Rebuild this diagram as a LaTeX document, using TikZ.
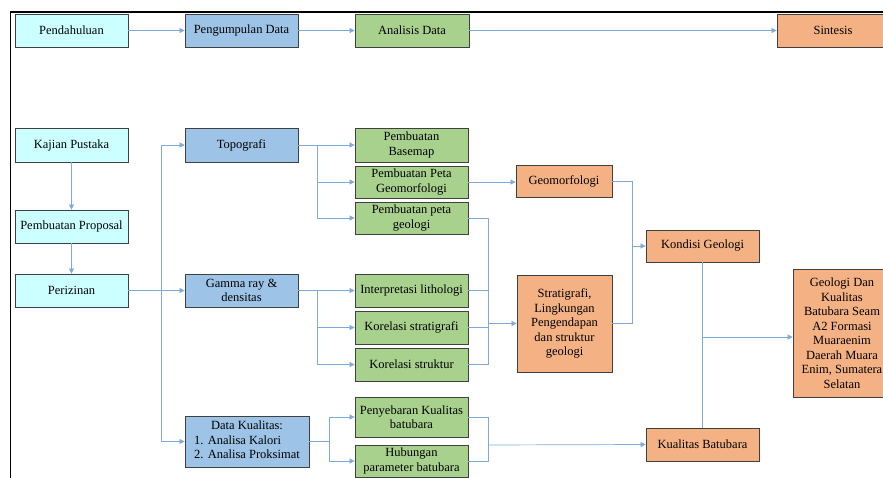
\documentclass[tikz,border=0pt]{standalone}
\usepackage{fontspec}
\setmainfont{Liberation Serif}
\usetikzlibrary{arrows.meta}
\definecolor{cyanfill}{RGB}{204,255,255}
\definecolor{bluefill}{RGB}{157,195,230}
\definecolor{greenfill}{RGB}{169,209,142}
\definecolor{orangefill}{RGB}{244,177,131}
\definecolor{edgegray}{RGB}{64,64,64}
\definecolor{linkblue}{RGB}{125,170,214}

\begin{document}
\begin{tikzpicture}[x=1pt,y=-1pt,
  procbox/.style={draw=edgegray, line width=0.8pt, align=center, inner sep=1pt,
    font=\fontsize{12.5}{14.5}\selectfont},
  wh/.style 2 args={minimum width=#1pt, minimum height=#2pt},
  cyanbox/.style={procbox, fill=cyanfill},
  bluebox/.style={procbox, fill=bluefill},
  greenbox/.style={procbox, fill=greenfill},
  orangebox/.style={procbox, fill=orangefill},
  link/.style={draw=linkblue, line width=0.7pt},
  flow/.style={link, -{Triangle[length=5pt,width=5pt]}}
]

\useasboundingbox (0,0) rectangle (883,478);
\clip (0,0) rectangle (883,478);

% Frame
\draw[line width=1.3pt] (10.5,478) -- (10.5,12) -- (883,12);

% Top row
\node[cyanbox, wh={113}{33}] (pend) at (71.5,30.5) {Pendahuluan};
\node[bluebox, wh={113}{33}] (kumpul) at (241.5,30.5) {Pengumpulan Data};
\node[greenbox, wh={114}{33}] (analisis) at (412,30.5) {Analisis Data};
\node[orangebox, wh={112}{33}] (sintesis) at (833,30.5) {Sintesis};

% Left column
\node[cyanbox, wh={113}{34}] (kajian) at (71.5,145) {Kajian Pustaka};
\node[cyanbox, wh={113}{33}] (proposal) at (71.5,226.5) {Pembuatan Proposal};
\node[cyanbox, wh={113}{33}] (izin) at (71.5,290.5) {Perizinan};

% Data groups
\node[bluebox, wh={113}{34}] (topo) at (241.5,145) {Topografi};
\node[bluebox, wh={113}{33}] (gamma) at (241.5,290.5) {Gamma ray \&\\ densitas};
\node[bluebox, wh={124}{51}] (kualdata) at (247,441.5)
  {\begin{tabular}{@{}l@{}}\multicolumn{1}{@{}c@{}}{Data Kualitas:}\\
   1. Analisa Kalori\\ 2. Analisa Proksimat\end{tabular}};

% Processing
\node[greenbox, wh={113}{34}] (basemap) at (411.5,145) {Pembuatan\\ Basemap};
\node[greenbox, wh={113}{32}] (petageomorf) at (411.5,182) {Pembuatan Peta\\ Geomorfologi};
\node[greenbox, wh={113}{32}] (petageol) at (411.5,218) {Pembuatan peta\\ geologi};
\node[greenbox, wh={113}{33}] (litho) at (411.5,290.5) {Interpretasi lithologi};
\node[greenbox, wh={113}{33}] (korstrat) at (411.5,327.5) {Korelasi stratigrafi};
\node[greenbox, wh={113}{33}] (korstruk) at (411.5,364.5) {Korelasi struktur};
\node[greenbox, wh={113}{40}] (sebar) at (411.5,417) {Penyebaran Kualitas\\ batubara};
\node[greenbox, wh={113}{32}] (hubung) at (411.5,461) {Hubungan\\ parameter batubara};

% Results
\node[orangebox, wh={96}{32}] (geomorf) at (564,181) {Geomorfologi};
\node[orangebox, wh={95}{97}] (strat) at (564.5,323.5)
  {Stratigrafi,\\ Lingkungan\\ Pengendapan\\ dan struktur\\ geologi};
\node[orangebox, wh={113}{32}] (kondisi) at (702.5,246) {Kondisi Geologi};
\node[orangebox, wh={113}{33}] (kualbb) at (702.5,444.5) {Kualitas Batubara};
\node[orangebox, wh={98}{128}] (final) at (842,333)
  {Geologi Dan\\ Kualitas\\ Batubara Seam\\ A2 Formasi\\ Muaraenim\\ Daerah Muara\\ Enim, Sumatera\\ Selatan};

% Junctions
\coordinate (jA) at (161,290.5);
\coordinate (jT) at (317,145);
\coordinate (jG) at (317,290.5);
\coordinate (jK) at (329,441.5);
\coordinate (jP) at (488,323.5);
\coordinate (jB) at (488,445);
\coordinate (jC) at (632,246);
\coordinate (jF) at (702.5,337);

% Top row arrows
\draw[flow] (pend) -- (kumpul);
\draw[flow] (kumpul) -- (analisis);
\draw[flow] (analisis) -- (sintesis);

% Left column arrows
\draw[flow] (kajian) -- (proposal);
\draw[flow] (proposal) -- (izin);
\draw[flow] (izin) -- (gamma);
\draw[flow] (jA) |- (topo.west);
\draw[flow] (jA) |- (kualdata.west);

% Branches
\draw[flow] (topo) -- (basemap);
\draw[flow] (jT) |- (petageomorf.west);
\draw[flow] (jT) |- (petageol.west);
\draw[flow] (gamma) -- (litho);
\draw[flow] (jG) |- (korstrat.west);
\draw[flow] (jG) |- (korstruk.west);
\draw[link] (kualdata.east) -- (jK);
\draw[flow] (jK) |- (sebar.west);
\draw[flow] (jK) |- (hubung.west);

% Merges
\draw[flow] (petageomorf.east) -- (petageomorf.east -| geomorf.west);
\draw[link] (petageol.east) -| (jP);
\draw[link] (litho.east) -| (jP);
\draw[link] (korstrat.east) -| (jP);
\draw[link] (korstruk.east) -| (jP);
\draw[flow] (jP) -- (strat.west);
\draw[link] (sebar.east) -| (jB);
\draw[link] (hubung.east) -| (jB);
\draw[flow] (jB) -- (kualbb.west);
\draw[link] (geomorf.east) -| (jC);
\draw[link] (strat.east) -| (jC);
\draw[flow] (jC) -- (kondisi.west);
\draw[link] (kondisi.south) -- (kualbb.north);
\draw[flow] (jF) -- (jF -| final.west);

\end{tikzpicture}
\end{document}
